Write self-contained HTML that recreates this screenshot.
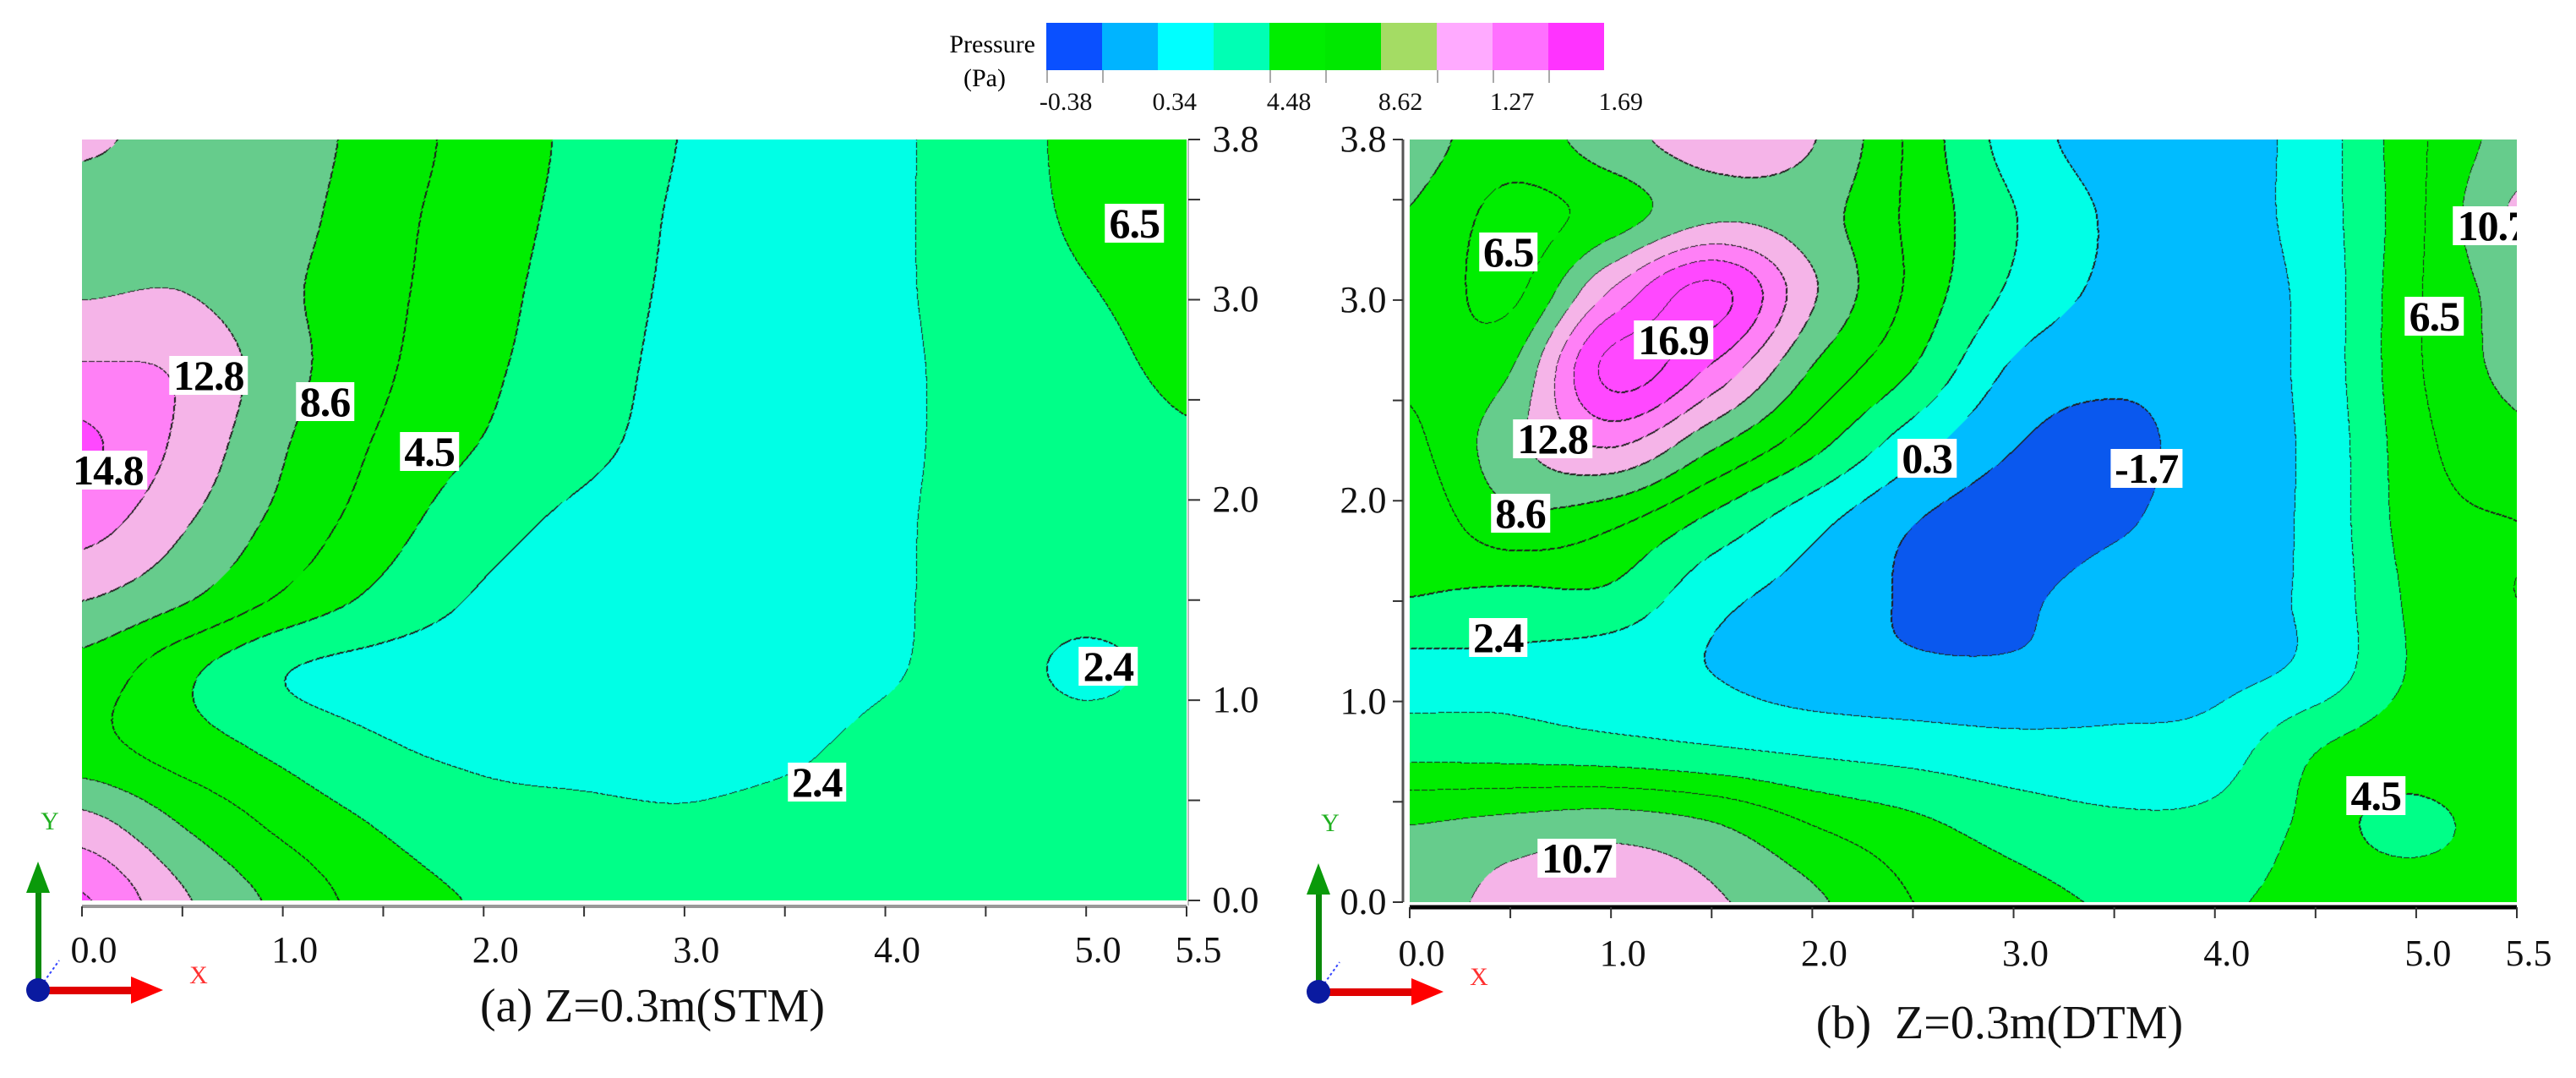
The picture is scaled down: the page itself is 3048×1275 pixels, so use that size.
<!DOCTYPE html>
<html>
<head>
<meta charset="utf-8">
<style>
  html,body{margin:0;padding:0;background:#fff;}
  body{width:3048px;height:1275px;position:relative;overflow:hidden;font-family:"Liberation Serif","Times New Roman","DejaVu Serif",serif;}
  .abs{position:absolute;}
  canvas{position:absolute;}
  .clab{position:absolute;background:#fff;font-weight:bold;font-size:50px;line-height:46px;height:46px;padding:0 5px;transform:translate(-50%,-50%);color:#000;white-space:nowrap;letter-spacing:-1px;}
  .tick-lab{position:absolute;font-size:44px;line-height:44px;transform:translate(-50%,-50%);color:#111;}
  .leg-lab{position:absolute;font-size:30px;line-height:30px;transform:translate(-50%,-50%);color:#111;}
  .caption{position:absolute;font-size:56px;line-height:60px;transform:translate(-50%,-50%);color:#111;white-space:pre;}
</style>
</head>
<body>
<div class="abs" style="left:1090px;top:36px;width:135px;text-align:right;font-size:30px;line-height:34px;">Pressure</div>
<div class="abs" style="left:1135px;top:76px;width:60px;text-align:center;font-size:30px;line-height:34px;">(Pa)</div>
<div id="legend" class="abs" style="left:1238px;top:27px;width:660px;height:56px;"></div>

<canvas id="cvA" style="left:97px;top:165px;" width="1307" height="900"></canvas>
<canvas id="cvB" style="left:1668px;top:165px;" width="1310" height="902"></canvas>
<div id="labA" class="abs" style="left:97px;top:165px;width:1307px;height:900px;"></div>
<div id="labB" class="abs" style="left:1668px;top:165px;width:1310px;height:902px;overflow:hidden;"></div>
<svg id="axes" class="abs" style="left:0;top:0;" width="3048" height="1275"></svg>
<div id="txt" class="abs" style="left:0;top:0;width:3048px;height:1275px;"></div>

<div class="caption" style="left:772px;top:1190px;">(a) Z=0.3m(STM)</div>
<div class="caption" style="left:2366px;top:1210px;">(b)  Z=0.3m(DTM)</div>

<script>
// ---- data ----
const levels = [-1.7, 0.3, 2.4, 4.5, 6.5, 8.6, 10.7, 12.8, 14.8, 16.9];
const bandColors = ["#0a58ee","#00bcff","#00ffe6","#00ff88","#00ee00","#00ea00","#66cc8c","#f5b4e8","#ff80f6","#ff48ff","#ff48ff"];
const legendColors = ["#0a50ff","#00b4ff","#00ffff","#00ffb4","#00ee00","#00e800","#a4dc64","#ffaaff","#ff70ff","#ff33ff"];
const legendTickLabels = ["-0.38","0.34","4.48","8.62","1.27","1.69"];
const legendTickIdx = [0.35, 2.3, 4.35, 6.35, 8.35, 10.3];
const xCats = [0,0.5,1,1.5,2,2.5,3,3.5,4,4.5,5,5.5];
const yCats = [3.8,3.42,3.04,2.66,2.28,1.9,1.52,1.14,0.76,0.38,0];
const xTickLabels = ["0.0","1.0","2.0","3.0","4.0","5.0","5.5"];
const xTickVals = [0,1,2,3,4,5,5.5];
const yTickLabels = ["3.8","3.0","2.0","1.0","0.0"];
const yTickVals = [3.8,3,2,1,0];
const stmValues = [
 [11,10,9.6,7.6,5.6,4.0,2.3,1.5,2.0,3.5,5.0,5.5],
 [9.8,9.6,9.3,7.2,5.4,3.8,2.1,1.5,2.0,3.5,4.8,5.2],
 [10.5,10.7,9.0,7.0,5.2,3.5,2.0,1.5,2.0,3.4,4.4,5.0],
 [13,12.5,9.4,6.8,4.9,3.3,1.8,1.4,1.9,3.2,4.0,4.8],
 [15.2,12.3,8.8,6.2,4.4,2.9,1.7,1.4,2.0,3.0,3.6,4.3],
 [13.8,11,8.0,5.4,3.2,2.0,1.5,1.4,2.1,3.0,3.4,3.8],
 [10.9,9,6.3,4.0,2.2,1.6,1.3,1.3,2.1,3.0,3.0,3.2],
 [7.8,5.0,2.5,1.7,1.5,1.4,1.3,1.4,2.2,3.0,2.1,2.9],
 [7.2,5.5,4.0,2.6,2.0,1.9,1.9,2.1,2.9,3.4,3.2,3.3],
 [11.5,8.5,6.0,4.3,3.2,2.8,2.6,2.9,3.2,3.5,3.6,3.6],
 [15,11,8.0,5.5,4.3,3.6,3.4,3.5,3.6,3.7,3.8,4.5]
];
const dtmValues = [
 [9.5,7.5,9.8,11.6,10.8,6.0,1.5,-0.6,-0.6,1.3,6.0,9.5],
 [8.5,5.8,7.5,10.3,9.5,6.0,2.5,0.0,-0.5,1.3,6.0,11.0],
 [8.3,6.0,13.0,17.5,11.0,6.0,2.0,-0.2,-0.6,1.0,6.2,9.5],
 [7.0,8.5,17.5,14.5,8.5,4.5,0.0,-1.2,-0.8,1.0,6.2,9.2],
 [6.0,10.0,13.0,9.0,5.2,1.2,-1.6,-2.3,-0.7,0.8,5.8,8.0],
 [5.0,8.0,7.0,4.0,1.0,-1.6,-2.6,-2.0,-0.6,0.8,5.5,6.5],
 [4.5,4.0,4.0,1.0,-0.5,-1.9,-2.0,-0.9,-0.4,0.8,5.0,6.5],
 [1.8,2.0,1.2,0.3,-0.8,-1.3,-1.4,-1.0,-0.3,1.0,4.8,6.0],
 [3.8,3.6,3.2,2.6,2.0,1.5,1.0,1.0,1.3,4.4,5.5,6.0],
 [8.6,9.3,9.8,8.8,6.5,5.0,3.6,2.8,3.0,4.8,4.0,5.5],
 [9.5,11.5,12.2,11.0,9.0,6.5,5.2,4.3,4.3,5.0,5.5,5.5]
];
const stmLabels = ["6.5","12.8","8.6","4.5","14.8","2.4","2.4"];
const stmLabelX = [5.24,0.63,1.21,1.73,0.13,5.11,3.66];
const stmLabelY = [3.38,2.62,2.49,2.24,2.15,1.17,0.59];
const dtmLabels = ["6.5","16.9","12.8","8.6","2.4","0.3","-1.7","10.7","4.5","6.5","10.7"];
const dtmLabelX = [0.49,1.31,0.71,0.55,0.44,2.57,3.66,0.83,4.8,5.09,5.38];
const dtmLabelY = [3.24,2.80,2.31,1.94,1.32,2.21,2.16,0.22,0.53,2.92,3.37];

// ---- helpers ----
function hex(c){return [parseInt(c.substr(1,2),16),parseInt(c.substr(3,2),16),parseInt(c.substr(5,2),16)];}
const rgb = bandColors.map(hex);
function cr(p0,p1,p2,p3,t){return p1+0.5*t*(p2-p0+t*(2*p0-5*p1+4*p2-p3+t*(3*(p1-p2)+p3-p0)));}
function sample(g,gx,gy){
  const nr=g.length,nc=g[0].length;
  const ix=Math.floor(gx),iy=Math.floor(gy),tx=gx-ix,ty=gy-iy;
  const cl=(v,n)=>Math.max(0,Math.min(n-1,v));
  const rows=[];
  for(let j=-1;j<=2;j++){
    const r=g[cl(iy+j,nr)];
    rows.push(cr(r[cl(ix-1,nc)],r[cl(ix,nc)],r[cl(ix+1,nc)],r[cl(ix+2,nc)],tx));
  }
  return cr(rows[0],rows[1],rows[2],rows[3],ty);
}
function band(v){let b=0;while(b<levels.length&&v>=levels[b])b++;return b;}

function drawField(id,g){
  const cv=document.getElementById(id),W=cv.width,H=cv.height,ctx=cv.getContext('2d');
  const img=ctx.createImageData(W,H),d=img.data;
  const B=new Uint8Array(W*H);
  const xs=xCats.length-1, ys=yCats.length-1;
  for(let y=0;y<H;y++){
    const gy=y/(H-1)*ys;
    for(let x=0;x<W;x++){
      const gx=x/(W-1)*xs;
      B[y*W+x]=band(sample(g,gx,gy));
    }
  }
  for(let y=0;y<H;y++)for(let x=0;x<W;x++){
    const i=y*W+x,b=B[i];
    let edge=false;
    if(x<W-1&&B[i+1]!==b)edge=true;
    if(y<H-1&&B[i+W]!==b)edge=true;
    if(x>0&&B[i-1]!==b&&B[i-1]>b)edge=true;
    if(y>0&&B[i-W]!==b&&B[i-W]>b)edge=true;
    if(edge&&((x+y)%9)>6)edge=false;
    const c=edge?[30,30,30]:rgb[b];
    d[i*4]=c[0];d[i*4+1]=c[1];d[i*4+2]=c[2];d[i*4+3]=255;
  }
  ctx.putImageData(img,0,0);
}
drawField('cvA',stmValues);
drawField('cvB',dtmValues);

function placeLabels(id,texts,xsA,ysA,W,H){
  const host=document.getElementById(id);
  texts.forEach((t,k)=>{
    const el=document.createElement('div');
    el.className='clab';
    
    
    el.textContent=t;
    el.style.left=(xsA[k]/5.5*W)+'px';
    el.style.top=((3.8-ysA[k])/3.8*H)+'px';
    host.appendChild(el);
  });
}
placeLabels('labA',stmLabels,stmLabelX,stmLabelY,1307,900);
placeLabels('labB',dtmLabels,dtmLabelX,dtmLabelY,1310,902);

// legend
const leg=document.getElementById('legend');
legendColors.forEach((c,i)=>{
  const s=document.createElement('div');
  
  
  s.style.cssText='position:absolute;top:0;height:56px;width:66px;left:'+(i*66)+'px;background:'+c;
  leg.appendChild(s);
});
const txt=document.getElementById('txt');
[0,1,4,5,7,8,9].forEach(i=>{
  const t=document.createElement('div');
  
  
  t.style.cssText='position:absolute;width:2px;height:15px;top:83px;background:#aaa;left:'+(1238+i*66)+'px';
  txt.appendChild(t);
});
legendTickLabels.forEach((l,k)=>{
  const t=document.createElement('div');
  t.className='leg-lab';
  
  
  t.textContent=l;
  t.style.left=(1238+legendTickIdx[k]*66)+'px';
  t.style.top='121px';
  txt.appendChild(t);
});

// axes
const svg=document.getElementById('axes');
const NS='http://www.w3.org/2000/svg';
function line(x1,y1,x2,y2,col,w,name){
  const l=document.createElementNS(NS,'line');
  l.setAttribute('x1',x1);l.setAttribute('y1',y1);l.setAttribute('x2',x2);l.setAttribute('y2',y2);
  l.setAttribute('stroke',col);l.setAttribute('stroke-width',w);
  
  
  svg.appendChild(l);
}
function label(x,y,t,name,cls){
  const e=document.createElement('div');
  e.className=cls||'tick-lab';
  
  
  e.textContent=t;e.style.left=x+'px';e.style.top=y+'px';
  txt.appendChild(e);
}
const A={x0:97,x1:1404,y0:1065,y1:165}, Bp={x0:1668,x1:2978,y0:1067,y1:165};
function sx(p,v){return p.x0+v/5.5*(p.x1-p.x0);}
function sy(p,v){return p.y0-v/3.8*(p.y0-p.y1);}
line(A.x0,1072,A.x1,1072,'#999',4,'x-axis-a');
for(let v=0;v<=5.5;v+=0.5){line(sx(A,v),1072,sx(A,v),1084,'#333',2,'x-tick-a');}
xTickVals.forEach((v,k)=>label(sx(A,v)+14,1124,xTickLabels[k],'x-tick-label-a'));
line(A.x1+2,A.y1,A.x1+2,A.y0+6,'#bbb',2,'y-axis-a');
for(let v=0;v<=3.5;v+=0.5){line(A.x1+2,sy(A,v),A.x1+16,sy(A,v),'#333',2,'y-tick-a');}
line(A.x1+2,sy(A,3.8),A.x1+16,sy(A,3.8),'#333',2,'y-tick-a');
yTickVals.forEach((v,k)=>label(A.x1+58,sy(A,v),yTickLabels[k],'y-tick-label-a'));
line(Bp.x0,1073,Bp.x1,1073,'#000',5,'x-axis-b');
for(let v=0;v<=5.5;v+=0.5){line(sx(Bp,v),1073,sx(Bp,v),1086,'#333',2,'x-tick-b');}
xTickVals.forEach((v,k)=>label(sx(Bp,v)+14,1128,xTickLabels[k],'x-tick-label-b'));
line(Bp.x0-8,Bp.y1,Bp.x0-8,Bp.y0,'#555',3,'y-axis-b');
for(let v=0;v<=3.5;v+=0.5){line(Bp.x0-20,sy(Bp,v),Bp.x0-8,sy(Bp,v),'#333',2,'y-tick-b');}
line(Bp.x0-20,sy(Bp,3.8),Bp.x0-8,sy(Bp,3.8),'#333',2,'y-tick-b');
yTickVals.forEach((v,k)=>label(Bp.x0-55,sy(Bp,v),yTickLabels[k],'y-tick-label-b'));

function triad(cx,cy,suffix){
  const g=document.createElementNS(NS,'g');
  
  
  g.innerHTML=
   '<rect x="'+(cx-3)+'" y="'+(cy-118)+'" width="7" height="118" fill="#0a8a0a"/>'+
   '<polygon points="'+(cx-14)+','+(cy-115)+' '+(cx+14)+','+(cy-115)+' '+cx+','+(cy-152)+'" fill="#0a9a0a"/>'+
   '<rect x="'+cx+'" y="'+(cy-4)+'" width="110" height="9" fill="#e00000"/>'+
   '<polygon points="'+(cx+110)+','+(cy-16)+' '+(cx+110)+','+(cy+16)+' '+(cx+148)+','+cy+'" fill="#ff0000"/>'+
   '<line x1="'+cx+'" y1="'+cy+'" x2="'+(cx+25)+'" y2="'+(cy-35)+'" stroke="#3344ff" stroke-width="2" stroke-dasharray="3,3"/>'+
   '<ellipse cx="'+cx+'" cy="'+cy+'" rx="14" ry="14" fill="#0a1aa0"/>'+
   '<text x="'+(cx+190)+'" y="'+(cy-8)+'" font-family="Liberation Serif, serif" font-size="30" fill="#ff3030" text-anchor="middle">X</text>'+
   '<text x="'+(cx+14)+'" y="'+(cy-190)+'" font-family="Liberation Serif, serif" font-size="30" fill="#20b020" text-anchor="middle">Y</text>';
  svg.appendChild(g);
}
triad(45,1171,'a');
triad(1560,1173,'b');
</script>
</body>
</html>
